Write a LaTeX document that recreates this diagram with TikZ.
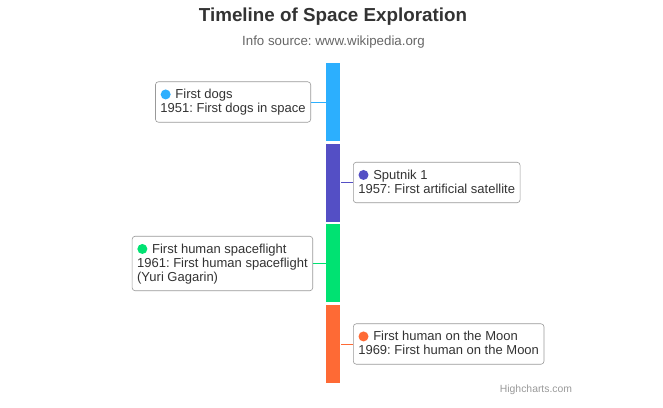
\documentclass[tikz,border=0pt]{standalone}
\usepackage{fontspec}
\setmainfont{Liberation Sans}
\usepackage{xcolor}
\usetikzlibrary{positioning,calc}
\definecolor{hcblue}{HTML}{2CAFFE}
\definecolor{hcpurple}{HTML}{544FC5}
\definecolor{hcgreen}{HTML}{00E272}
\definecolor{hcorange}{HTML}{FE6A35}
\definecolor{hctext}{HTML}{333333}
\definecolor{hcsub}{HTML}{666666}
\definecolor{hcborder}{HTML}{999999}
\newcommand{\firstline}{\rule{0pt}{12pt}\hspace{15pt}}
\newcommand{\lastline}{\rule[-4.5pt]{0pt}{4.5pt}}
\frenchspacing
\begin{document}
\begin{tikzpicture}[x=1pt, y=-1pt,
    segment/.style={fill=#1, draw=white, line width=0.6pt, minimum width=15pt, minimum height=79pt, inner sep=0pt, outer sep=0pt},
    eventbox/.style={draw=hcborder, line width=0.6pt, rounded corners=3pt, fill=white, align=left, text=hctext,
        font=\fontsize{13}{14}\selectfont, inner xsep=5pt, inner ysep=5pt},
    link/.style={draw=#1, line width=1pt}]
    \useasboundingbox (0,0) rectangle (663,407);

    % title
    \node[font=\bfseries\fontsize{18.8}{21}\selectfont, text=hctext] (title) at (333,17) {Timeline of Space Exploration};
    \node[font=\fontsize{13.3}{15}\selectfont, text=hcsub] (subtitle) at (333.5,42) {Info source: www.wikipedia.org};

    % timeline bar
    \node[segment=hcblue, anchor=north] (bar1) at (333,62.5) {};
    \node[segment=hcpurple, below=1.5pt of bar1] (bar2) {};
    \node[segment=hcgreen, below=1.5pt of bar2] (bar3) {};
    \node[segment=hcorange, below=1.5pt of bar3] (bar4) {};

    % events
    \node[eventbox, anchor=east] (dogs) at (311,102) {\firstline First dogs\\1951: First dogs in space\lastline};
    \node[eventbox, anchor=west] (sputnik) at (353,182.5) {\firstline Sputnik 1\\1957: First artificial satellite\lastline};
    \node[eventbox, anchor=east] (gagarin) at (313,263.5) {\firstline First human spaceflight\\1961: First human spaceflight\\(Yuri Gagarin)\lastline};
    \node[eventbox, anchor=west] (moon) at (353,344) {\firstline First human on the Moon\\1969: First human on the Moon\lastline};

    % markers
    \fill[hcblue] ([shift={(10.5,13)}]dogs.north west) circle (5);
    \fill[hcpurple] ([shift={(10.5,13)}]sputnik.north west) circle (5);
    \fill[hcgreen] ([shift={(10.5,13)}]gagarin.north west) circle (5);
    \fill[hcorange] ([shift={(10.5,13)}]moon.north west) circle (5);

    % connectors
    \draw[link=hcblue] (dogs.east) -- (dogs.east -| bar1.west);
    \draw[link=hcpurple] (sputnik.west) -- (sputnik.west -| bar2.east);
    \draw[link=hcgreen] (gagarin.east) -- (gagarin.east -| bar3.west);
    \draw[link=hcorange] (moon.west) -- (moon.west -| bar4.east);

    \node[font=\fontsize{10.4}{12}\selectfont, text=hcborder] (credits) at (536,390) {Highcharts.com};
\end{tikzpicture}
\end{document}
